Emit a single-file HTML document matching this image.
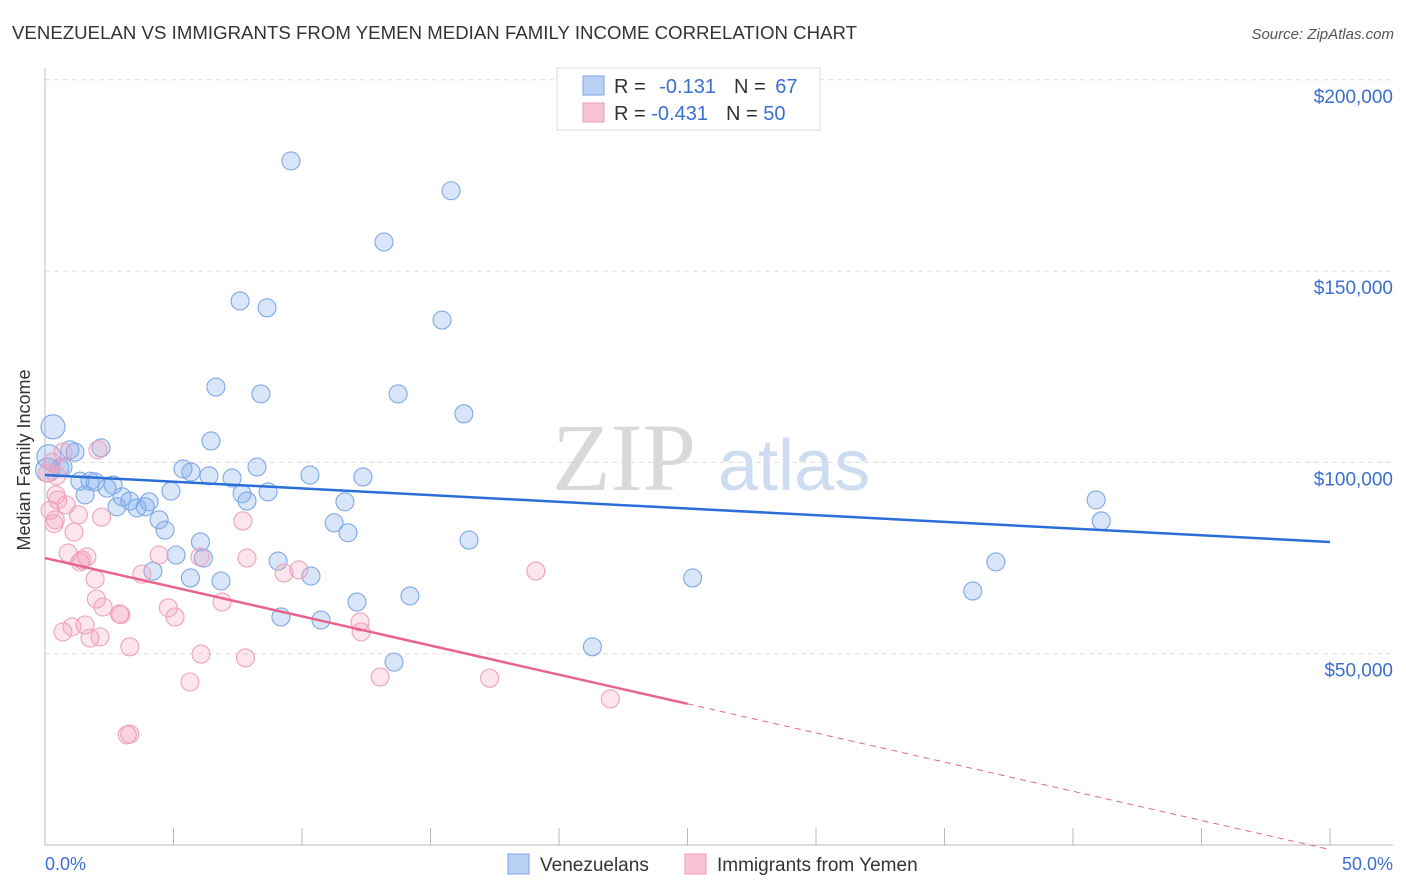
<!DOCTYPE html>
<html><head><meta charset="utf-8"><style>
body{margin:0;background:#fff;font-family:"Liberation Sans",sans-serif;}
svg{display:block}
</style></head><body>
<svg id="chart" width="1406" height="892">
<text x="12" y="39" font-size="18.6" fill="#333" textLength="845">VENEZUELAN VS IMMIGRANTS FROM YEMEN MEDIAN FAMILY INCOME CORRELATION CHART</text>
<text x="1394" y="39" font-size="15" fill="#555" font-style="italic" text-anchor="end">Source: ZipAtlas.com</text>
<g>
<text x="552" y="490" font-size="96" font-family="Liberation Serif,serif" fill="#d9d9d9">ZIP</text>
<text x="718" y="490" font-size="72" fill="#cddcf1">atlas</text>
</g>
<g id="grid"></g>
<line x1="45" y1="68" x2="45" y2="845" stroke="#bbb"/>
<line x1="45" y1="845" x2="1393" y2="845" stroke="#bbb"/>
<g id="xticks"></g>
<text x="26" y="456" font-size="18" fill="#333" transform="rotate(-90 30 456)" text-anchor="middle">Median Family Income</text>
<text x="45" y="870" font-size="18" fill="#3a6fd0">0.0%</text>
<text x="1393" y="870" font-size="18" fill="#3a6fd0" text-anchor="end">50.0%</text>
<g id="pts"></g>
<g id="lines"></g>
<g>
<rect x="557" y="68" width="263" height="62" fill="#fff" stroke="#ddd"/>
<rect x="583" y="76" width="21" height="19" fill="#b8d2f5" stroke="#7aa6e4"/>
<rect x="583" y="103" width="21" height="19" fill="#f8c4d4" stroke="#eb9ab4"/>
<text x="614" y="93" font-size="20" fill="#333">R = <tspan fill="#3a6fd0" dx="8">-0.131</tspan><tspan dx="18" fill="#333">N = </tspan><tspan fill="#3a6fd0" dx="4">67</tspan></text>
<text x="614" y="120" font-size="20" fill="#333">R = <tspan fill="#3a6fd0">-0.431</tspan><tspan dx="18" fill="#333">N = </tspan><tspan fill="#3a6fd0">50</tspan></text>
</g>
<g>
<rect x="508" y="854" width="21" height="20" fill="#b8d2f5" stroke="#7aa6e4"/>
<text x="540" y="871" font-size="19" fill="#333">Venezuelans</text>
<rect x="685" y="854" width="21" height="20" fill="#f8c4d4" stroke="#eb9ab4"/>
<text x="717" y="871" font-size="19" fill="#333">Immigrants from Yemen</text>
</g>
</svg>
<script>
const yTicks=[50000,100000,150000,200000];
const yTickLabels=["$50,000","$100,000","$150,000","$200,000"];
const blueX=[0.31,0.58,0.7,0.97,1.17,2.18,1.36,1.75,1.95,1.56,2.41,2.65,3.0,3.3,2.8,3.58,3.9,4.05,4.44,4.67,4.9,5.37,5.68,6.38,7.28,8.25,6.46,6.65,7.59,8.64,8.4,9.57,13.19,15.8,15.45,13.74,16.3,7.67,7.86,8.68,10.31,11.67,12.37,11.25,11.79,4.2,5.1,5.66,6.05,6.16,6.85,9.07,10.35,9.18,10.74,12.14,13.58,14.2,16.5,21.3,25.2,40.9,41.1,37.0,36.1,0.1,0.15];
const blueY=[109.3,98.6,98.8,103.3,102.7,103.8,95.1,95.1,94.9,91.5,93.3,94.1,91.0,89.9,88.4,88.1,88.4,89.7,85.0,82.3,92.5,98.3,97.5,96.5,95.9,98.8,105.6,119.7,142.2,140.4,117.9,178.8,157.6,171.0,137.2,117.9,112.7,91.8,89.9,92.3,96.7,89.7,96.2,84.2,81.6,71.6,75.8,69.8,79.2,75.0,69.0,74.2,70.3,59.6,58.8,63.5,47.8,65.1,79.7,51.8,69.8,90.2,84.7,74.0,66.4,98.0,101.5];
const pinkX=[0.1,0.27,0.7,2.06,0.43,0.5,0.4,0.35,0.82,1.3,1.13,2.2,0.9,1.44,1.63,1.36,1.95,2.0,2.26,0.7,1.05,1.56,1.75,2.14,2.9,3.3,3.2,3.3,3.77,4.44,4.8,5.06,5.64,6.07,6.89,7.7,7.86,7.8,9.3,9.88,12.26,12.3,13.04,17.3,19.1,22.0,6.03,0.2,0.45,2.95];
const pinkY=[97.2,100,102.7,103.3,91.5,90.2,85,84,88.9,86.3,81.8,85.7,76.3,74.5,75.3,74.0,69.5,64.3,62.2,55.7,57,57.5,54.1,54.4,60.4,51.8,28.8,29.0,70.8,75.8,62.0,59.6,42.6,49.9,63.5,84.7,75.0,48.9,71.1,71.9,58.3,55.7,43.9,43.6,71.6,38.2,75.3,87.5,96.5,60.2];
const blueFit=[96.7,79.2];
const pinkFit=[75.0,-1.2];
const pinkSolidEnd=25;
const NS="http://www.w3.org/2000/svg";
const sx=v=>45+v*25.7, sy=v=>845-v*191.3/50000;
function mk(t,a,p){const e=document.createElementNS(NS,t);for(const k in a)e.setAttribute(k,a[k]);p.appendChild(e);return e;}
const grid=document.getElementById('grid');
yTicks.forEach((v,i)=>{
 const l=mk('line',{x1:45,x2:1393,y1:sy(v),y2:sy(v),stroke:'#ddd','stroke-dasharray':'5,4'},grid);
 
 
 const t=mk('text',{x:1393,y:sy(v)+23,'font-size':19,fill:'#3a6fd0','text-anchor':'end'},grid);
 t.textContent=yTickLabels[i];
 
 
});
const xt=document.getElementById('xticks');
for(let i=1;i<=10;i++){
 const l=mk('line',{x1:sx(i*5),x2:sx(i*5),y1:828,y2:845,stroke:'#bbb'},xt);
 
 
}
const pts=document.getElementById('pts');
blueX.forEach((x,i)=>{
 const c=mk('circle',{cx:sx(x),cy:sy(blueY[i]*1000),r:(x<0.5?12:9),fill:'rgba(130,172,238,0.3)',stroke:'#7ea8e6','stroke-width':1.1},pts);
 
 
});
pinkX.forEach((x,i)=>{
 const c=mk('circle',{cx:sx(x),cy:sy(pinkY[i]*1000),r:9,fill:'rgba(245,160,188,0.28)',stroke:'#eea2bb','stroke-width':1.1},pts);
 
 
});
const ln=document.getElementById('lines');
const b=mk('line',{x1:sx(0),y1:sy(blueFit[0]*1000),x2:sx(50),y2:sy(blueFit[1]*1000),stroke:'#2a6fd8','stroke-width':2.5},ln);


const pAt=x=>pinkFit[0]+(pinkFit[1]-pinkFit[0])*x/50;
const p=mk('line',{x1:sx(0),y1:sy(pAt(0)*1000),x2:sx(pinkSolidEnd),y2:sy(pAt(pinkSolidEnd)*1000),stroke:'#e8648f','stroke-width':2.5},ln);


const pd=mk('line',{x1:sx(pinkSolidEnd),y1:sy(pAt(pinkSolidEnd)*1000),x2:sx(50),y2:sy(pAt(50)*1000),stroke:'#e8648f','stroke-width':1,'stroke-dasharray':'6,5'},ln);


</script>
</body></html>
